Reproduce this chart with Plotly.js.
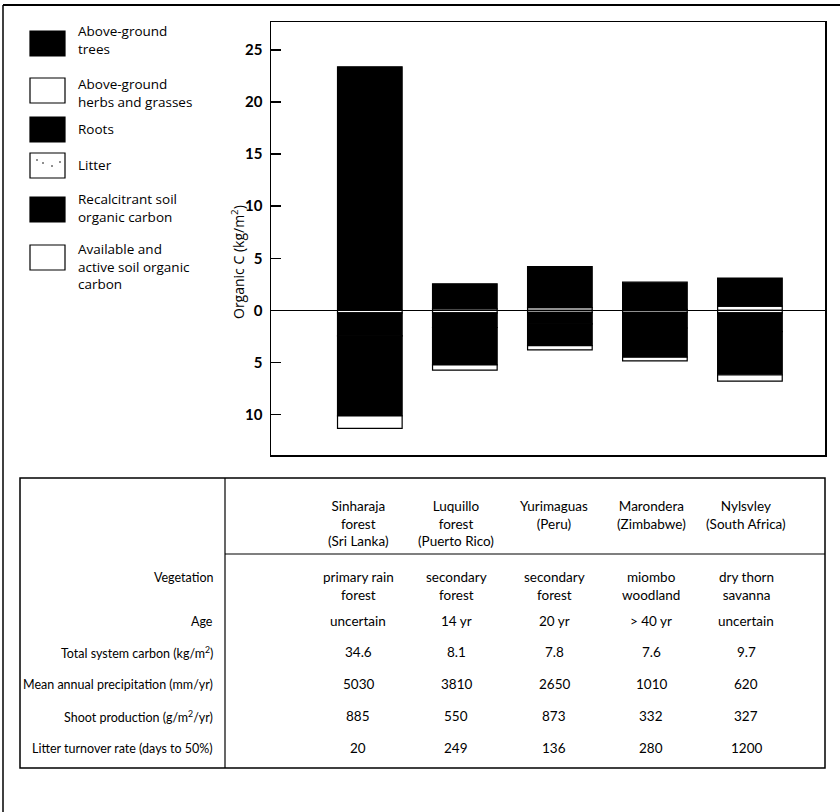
<!DOCTYPE html>
<html>
<head>
<meta charset="utf-8">
<script src="https://cdn.plot.ly/plotly-3.0.1.min.js"></script>
<style>
  html, body { margin: 0; padding: 0; background: #fff; }
  #chart { width: 840px; height: 812px; }
</style>
</head>
<body>
<div id="chart"></div>
<script>
// ---------- data ----------
const sites = ['Sinharaja', 'Luquillo', 'Yurimaguas', 'Marondera', 'Nylsvley'];
const siteIndex = [0, 1, 2, 3, 4];

// organic C, kg/m2 (above ground positive, below ground negative)
const treesC  = [23.4, 2.4, 3.95, 2.6, 2.7];
const herbsC  = [0, 0.15, 0.25, 0.1, 0.4];
const litterC = [-0.25, -0.25, -0.2, -0.2, -0.25];
const rootsC  = [-2.2, -1.4, -1.1, -1.5, -1.8];
const recalcC = [-7.7, -3.6, -2.1, -2.8, -4.15];
const availC  = [-1.2, -0.5, -0.4, -0.35, -0.6];

const yTickVals = [-10, -5, 0, 5, 10, 15, 20, 25];
const yTickText = ['10', '5', '0', '5', '10', '15', '20', '25'];

const legendLabels = ['Above-ground<br>trees', 'Above-ground<br>herbs and grasses', 'Roots', 'Litter',
                      'Recalcitrant soil<br>organic carbon', 'Available and<br>active soil organic<br>carbon'];

const tableHeaders = ['Sinharaja<br>forest<br>(Sri Lanka)', 'Luquillo<br>forest<br>(Puerto Rico)',
                      'Yurimaguas<br>(Peru)', 'Marondera<br>(Zimbabwe)', 'Nylsvley<br>(South Africa)'];
const rowLabels = ['Vegetation', 'Age', 'Total system carbon (kg/m<sup>2</sup>)',
                   'Mean annual precipitation (mm/yr)', 'Shoot production (g/m<sup>2</sup>/yr)',
                   'Litter turnover rate (days to 50%)'];
const vegetation  = ['primary rain<br>forest', 'secondary<br>forest', 'secondary<br>forest', 'miombo<br>woodland', 'dry thorn<br>savanna'];
const age         = ['uncertain', '14 yr', '20 yr', '> 40 yr', 'uncertain'];
const totalCarbon = ['34.6', '8.1', '7.8', '7.6', '9.7'];
const precip      = ['5030', '3810', '2650', '1010', '620'];
const shootProd   = ['885', '550', '873', '332', '327'];
const litterTurn  = ['20', '249', '136', '280', '1200'];
const tableRows = [vegetation, age, totalCarbon, precip, shootProd, litterTurn];

// ---------- layout helpers ----------
const W = 840, H = 812;
const PL = 271, PR = 825, PT = 22, PB = 455;
const X = px => (px - PL) / (PR - PL);
const Y = py => (PB - py) / (PB - PT);
const FONT = 'Lato, "Open Sans", sans-serif';
const LFONT = '"Open Sans", Lato, sans-serif';
const INK = '#000';

function barTrace(name, vals, fill, pattern) {
  const m = {color: fill, line: {color: INK, width: 1.2}};
  if (pattern) m.pattern = pattern;
  return {type: 'bar', name: name, x: siteIndex, y: vals, width: 0.68,
          marker: m, showlegend: false, hoverinfo: 'y'};
}

const traces = [
  barTrace('Above-ground herbs and grasses', herbsC, 'white'),
  barTrace('Above-ground trees', treesC, 'black'),
  barTrace('Litter', litterC, 'white', {shape: '.', fgcolor: INK, bgcolor: 'white', size: 12, solidity: 0.04}),
  barTrace('Roots', rootsC, 'black'),
  barTrace('Recalcitrant soil organic carbon', recalcC, 'black'),
  barTrace('Available and active soil organic carbon', availC, 'white')
];

const shapes = [];
const annotations = [];

// outer frame (top and left edges)
shapes.push({type: 'line', xref: 'paper', yref: 'paper', x0: X(3), x1: X(840), y0: Y(5), y1: Y(5), line: {color: INK, width: 2}});
shapes.push({type: 'line', xref: 'paper', yref: 'paper', x0: X(3), x1: X(3), y0: Y(5), y1: Y(812), line: {color: INK, width: 1.5}});

// legend
const swTop = [31, 78, 117, 153, 197, 245];
const txtMid = [40, 93, 129, 165, 208, 266];
const swFill = ['black', 'white', 'black', 'white', 'black', 'white'];
legendLabels.forEach((lab, i) => {
  shapes.push({type: 'rect', xref: 'paper', yref: 'paper',
    x0: X(30), x1: X(65), y0: Y(swTop[i]), y1: Y(swTop[i] + 25),
    fillcolor: swFill[i], line: {color: INK, width: 1.2}});
  annotations.push({xref: 'paper', yref: 'paper', x: X(76), y: Y(txtMid[i]),
    xanchor: 'left', yanchor: 'middle', align: 'left', showarrow: false,
    text: lab, font: {family: LFONT, size: 13.5, color: INK}});
});
// litter dots in legend swatch
[[37, 160], [43, 163], [52, 166], [60, 162]].forEach(p => {
  shapes.push({type: 'circle', xref: 'paper', yref: 'paper',
    x0: X(p[0] - 0.8), x1: X(p[0] + 0.8), y0: Y(p[1] - 0.8), y1: Y(p[1] + 0.8),
    fillcolor: INK, line: {width: 0}});
});

// y-axis title
annotations.push({xref: 'paper', yref: 'paper', x: X(238), y: Y(262), textangle: -90,
  showarrow: false, xanchor: 'center', yanchor: 'middle',
  text: 'Organic C (kg/m<sup>2</sup>)', font: {family: LFONT, size: 14, color: INK}});

// table frame
const TL = 20, TR = 825, TT = 478, TB = 768, TDIV = 225, THDR = 554;
shapes.push({type: 'rect', xref: 'paper', yref: 'paper', x0: X(TL), x1: X(TR), y0: Y(TT), y1: Y(TB),
  line: {color: INK, width: 1.5}, fillcolor: 'rgba(0,0,0,0)'});
shapes.push({type: 'line', xref: 'paper', yref: 'paper', x0: X(TDIV), x1: X(TDIV), y0: Y(TT), y1: Y(TB),
  line: {color: INK, width: 1.2}});
shapes.push({type: 'line', xref: 'paper', yref: 'paper', x0: X(TDIV), x1: X(TR), y0: Y(THDR), y1: Y(THDR),
  line: {color: INK, width: 1.2}});

const colX = [358, 456, 554, 651, 746];
tableHeaders.forEach((h, j) => {
  annotations.push({xref: 'paper', yref: 'paper', x: X(colX[j]), y: Y(496),
    xanchor: 'center', yanchor: 'top', align: 'center', showarrow: false,
    text: h, font: {family: FONT, size: 13.5, color: INK}});
});
const rowY = [577, 621, 652, 684, 716, 748];
rowLabels.forEach((lab, i) => {
  annotations.push({xref: 'paper', yref: 'paper', x: X(215), y: Y(rowY[i]),
    xanchor: 'right', yanchor: 'middle', align: 'right', showarrow: false,
    text: lab, font: {family: FONT, size: 12.5, color: INK}});
  tableRows[i].forEach((v, j) => {
    annotations.push({xref: 'paper', yref: 'paper', x: X(colX[j]), y: Y(rowY[i] - 10),
      xanchor: 'center', yanchor: 'top', align: 'center', showarrow: false,
      text: v, font: {family: FONT, size: 13.5, color: INK}});
  });
});

const layout = {
  width: W, height: H, autosize: false,
  margin: {l: PL, r: W - PR, t: PT, b: H - PB, pad: 0},
  paper_bgcolor: 'white', plot_bgcolor: 'white',
  barmode: 'relative', bargap: 0,
  font: {family: FONT, color: INK},
  xaxis: {range: [-1.04, 4.79], showticklabels: false, ticks: '', showgrid: false, zeroline: false,
          showline: true, mirror: true, linecolor: INK, linewidth: 1.5, fixedrange: true},
  yaxis: {range: [-13.9, 27.7], tickvals: yTickVals, ticktext: yTickText,
          ticks: 'inside', ticklen: 10, tickwidth: 1.5, tickcolor: INK,
          tickfont: {family: FONT, size: 15, color: INK, weight: 'bold'},
          ticklabelstandoff: 4,
          showgrid: false, zeroline: true, zerolinecolor: INK, zerolinewidth: 1.5,
          showline: true, mirror: true, linecolor: INK, linewidth: 1.5, fixedrange: true},
  shapes: shapes,
  annotations: annotations
};

Plotly.newPlot('chart', traces, layout, {displayModeBar: false, staticPlot: true});
</script>
</body>
</html>
